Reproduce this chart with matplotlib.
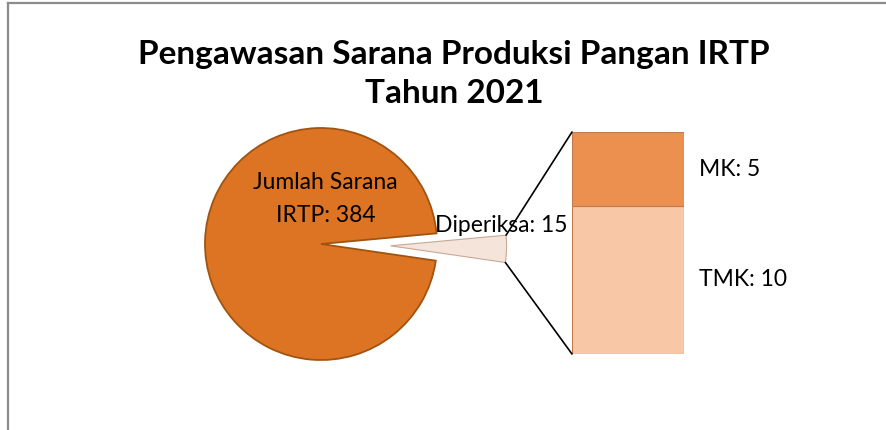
import numpy as np
import matplotlib.pyplot as plt
from matplotlib.patches import ConnectionPatch
from matplotlib.lines import Line2D

plt.rcParams['font.family'] = ['Lato', 'DejaVu Sans']

title = "Pengawasan Sarana Produksi Pangan IRTP\nTahun 2021"
pie_labels = ["Diperiksa", "Jumlah Sarana\nIRTP"]
pie_values = [15, 384]
bar_labels = ["TMK", "MK"]
bar_values = [10, 5]

W, H = 887, 430
fig = plt.figure(figsize=(W / 100, H / 100), dpi=100)

# frame like the excel chart area (left + top edge only visible)
fig.add_artist(Line2D([8.5 / W, 8.5 / W], [0, 1 - 3 / H], color='#8c8c8c', lw=1.6))
fig.add_artist(Line2D([8.5 / W, 1], [1 - 3 / H, 1 - 3 / H], color='#8c8c8c', lw=1.6))

fig.text(454 / W, 1 - 74 / H, title, ha='center', va='center', fontsize=24,
         fontweight='bold', linespacing=1.42)

# pie part
R = 116.0
cx, cy = 321, H - 244
xl, xr, yb, yt = -1.3, 1.9, -1.2, 1.2
axp = fig.add_axes([(cx + xl * R) / W, (cy + yb * R) / H,
                    (xr - xl) * R / W, (yt - yb) * R / H])
small_ang = 360 * pie_values[0] / sum(pie_values)
start = -1.5 - small_ang / 2
explode = 0.6
wedges, _ = axp.pie(pie_values, explode=[explode, 0], startangle=start,
                    colors=['#f4e4da', '#dc7424'], counterclock=True,
                    wedgeprops=dict(edgecolor='#a0540f', linewidth=1.3))
wedges[0].set_edgecolor('#c9a898')
wedges[0].set_linewidth(0.8)
axp.set_xlim(xl, xr)
axp.set_ylim(yb, yt)
axp.set_aspect('auto')
axp.axis('off')

axp.text(0.04, 0.39, f"{pie_labels[1]}: {pie_values[1]}", ha='center', va='center',
         fontsize=16.5, linespacing=1.7)
axp.text((501 - cx) / R, (H - 226 - cy) / R, f"{pie_labels[0]}: {pie_values[0]}",
         ha='center', va='center', fontsize=16.5, zorder=5)

# bar part
bx0, bx1, by0, by1 = 572, 684, H - 354, H - 132
axb = fig.add_axes([bx0 / W, by0 / H, (bx1 - bx0) / W, (by1 - by0) / H])
bottom = 0
bar_colors = ['#f8c7a6', '#ec9050']
for lab, v, c in zip(bar_labels, bar_values, bar_colors):
    axb.bar(0, v, bottom=bottom, width=1, color=c, edgecolor='#c07a50', linewidth=0.8)
    axb.text(0.63, bottom + v / 2, f"{lab}: {v}", ha='left', va='center',
             fontsize=16.5, clip_on=False)
    bottom += v
axb.set_xlim(-0.5, 0.5)
axb.set_ylim(0, sum(bar_values))
axb.axis('off')

# connector lines from the exploded slice to the bar
mid = np.deg2rad(start + small_ang / 2)
ox, oy = explode * np.cos(mid), explode * np.sin(mid)
t1, t2 = np.deg2rad(start), np.deg2rad(start + small_ang)
top_pt = (ox + np.cos(t2), oy + np.sin(t2))
bot_pt = (ox + np.cos(t1), oy + np.sin(t1))
for p, yb_ in [(top_pt, sum(bar_values)), (bot_pt, 0)]:
    con = ConnectionPatch(xyA=p, coordsA=axp.transData, xyB=(-0.5, yb_),
                          coordsB=axb.transData, color='black', lw=1.2)
    fig.add_artist(con)

fig.savefig('out.png', dpi=100)
